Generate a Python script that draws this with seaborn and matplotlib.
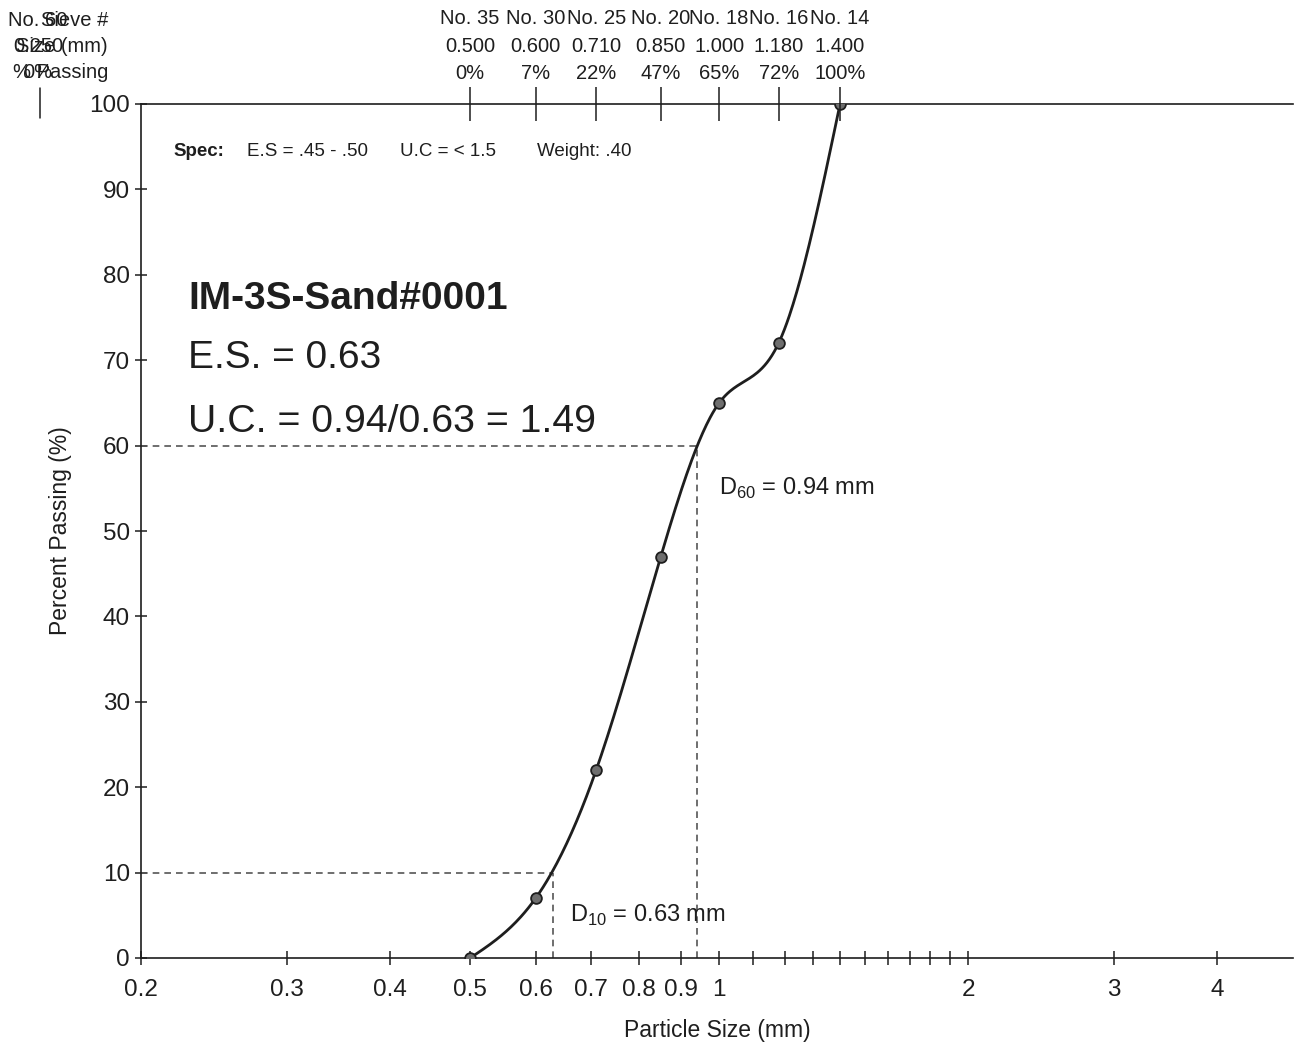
import numpy as np
import matplotlib
matplotlib.use("Agg")
import matplotlib.pyplot as plt
import seaborn as sns

# Sieve data
sieve_no = ["No. 35", "No. 30", "No. 25", "No. 20", "No. 18", "No. 16", "No. 14"]
sieve_mm = [0.500, 0.600, 0.710, 0.850, 1.000, 1.180, 1.400]
passing = [0, 7, 22, 47, 65, 72, 100]
d10, d60 = 0.63, 0.94

x_major = [0.2, 0.3, 0.4, 0.5, 0.6, 0.7, 0.8, 0.9, 1, 2, 3, 4]
x_major_labels = ["0.2", "0.3", "0.4", "0.5", "0.6", "0.7", "0.8", "0.9", "1", "2", "3", "4"]
x_minor = [1.1, 1.2, 1.3, 1.4, 1.5, 1.6, 1.7, 1.8, 1.9]
y_ticks = list(range(0, 101, 10))

sns.set_style("white")
plt.rcParams["font.family"] = ["Liberation Sans", "DejaVu Sans"]
plt.rcParams["mathtext.fontset"] = "custom"
plt.rcParams["mathtext.rm"] = "Liberation Sans"
INK = "#1e1e1e"


def natural_spline(xk, yk, xs):
    """Natural cubic spline, used only to draw the smooth gradation curve."""
    xk = np.asarray(xk, float)
    yk = np.asarray(yk, float)
    n = len(xk)
    h = np.diff(xk)
    A = np.zeros((n, n))
    r = np.zeros(n)
    A[0, 0] = A[-1, -1] = 1
    for i in range(1, n - 1):
        A[i, i - 1] = h[i - 1]
        A[i, i] = 2 * (h[i - 1] + h[i])
        A[i, i + 1] = h[i]
        r[i] = 3 * ((yk[i + 1] - yk[i]) / h[i] - (yk[i] - yk[i - 1]) / h[i - 1])
    c = np.linalg.solve(A, r)
    b = (yk[1:] - yk[:-1]) / h - h * (2 * c[:-1] + c[1:]) / 3
    d = (c[1:] - c[:-1]) / (3 * h)
    idx = np.clip(np.searchsorted(xk, xs) - 1, 0, n - 2)
    dx = xs - xk[idx]
    return yk[idx] + b[idx] * dx + c[idx] * dx ** 2 + d[idx] * dx ** 3


W, H = 1295, 1044
fig = plt.figure(figsize=(W / 100, H / 100), dpi=100)
ax = fig.add_axes([141 / W, 86 / H, 1152 / W, 854 / H])

# Gradation curve (smooth in log-x) and measured points
lx = np.log10(sieve_mm)
xs = np.linspace(lx[0], lx[-1], 300)
sns.lineplot(x=10 ** xs, y=natural_spline(lx, passing, xs), ax=ax, color=INK, lw=2.0,
             sort=False, zorder=3)
sns.scatterplot(x=sieve_mm, y=passing, ax=ax, s=60, color="#6e6e6e", edgecolor=INK,
                linewidth=1.3, zorder=4)

# D10 / D60 construction lines
dash = dict(color="#555555", lw=1.2, ls=(0, (4, 3)), zorder=2)
ax.plot([0.2, d60], [60, 60], **dash)
ax.plot([d60, d60], [0, 60], **dash)
ax.plot([0.2, d10], [10, 10], **dash)
ax.plot([d10, d10], [0, 10], **dash)

ax.set_xscale("log")
ax.set_xlim(0.2, 4.94)
ax.set_ylim(0, 100)
ax.set_xticks(x_major)
ax.set_xticklabels(x_major_labels)
ax.set_xticks(x_minor, minor=True)
ax.set_xticklabels([], minor=True)
ax.set_yticks(y_ticks)
ax.tick_params(axis="x", which="both", direction="inout", length=10, width=1.1,
               colors=INK, labelsize=17.5, pad=10, bottom=True)
ax.tick_params(axis="y", direction="inout", length=8, width=1.1, colors=INK,
               labelsize=17.5, pad=4, left=True)
ax.set_xlabel("Particle Size (mm)", fontsize=16.5, color=INK, labelpad=13)
ax.set_ylabel("Percent Passing (%)", fontsize=16.5, color=INK, labelpad=12)

for side in ["left", "bottom", "top"]:
    ax.spines[side].set_color(INK)
    ax.spines[side].set_linewidth(1.2)
ax.spines["right"].set_visible(False)

# Top axis: sieve numbers, sizes and % passing
top = ax.twiny()
top.set_xscale("log")
top.set_xlim(ax.get_xlim())
top.set_xticks(sieve_mm)
top.set_xticks([], minor=True)
top.set_xticklabels([f"{n}\n{s:.3f}\n{p}%" for n, s, p in zip(sieve_no, sieve_mm, passing)],
                    fontsize=14.5, color=INK)
for lab in top.get_xticklabels():
    lab.set_linespacing(1.56)
top.tick_params(axis="x", direction="inout", length=24, width=1.1, colors=INK, pad=3)
for side in ["left", "right", "bottom", "top"]:
    top.spines[side].set_visible(False)

# Left header (overlapping column header as on the original sheet)
hdr = dict(va="center", fontsize=14.5, color=INK)
fig.text(108 / W, 1 - 20 / H, "Sieve #", ha="right", **hdr)
fig.text(108 / W, 1 - 46 / H, "Size (mm)", ha="right", **hdr)
fig.text(108 / W, 1 - 73 / H, "% Passing", ha="right", **hdr)
fig.text(38 / W, 1 - 20 / H, "No. 60", ha="center", **hdr)
fig.text(38 / W, 1 - 46 / H, "0.250", ha="center", **hdr)
fig.text(38 / W, 1 - 73 / H, "0%", ha="center", **hdr)
fig.add_artist(plt.Line2D([40 / W, 40 / W], [1 - 88 / H, 1 - 118 / H], color=INK, lw=1.1))

# Annotations
t = ax.transAxes
spec = dict(transform=t, fontsize=13.5, color=INK, va="center")
ax.text(0.028, 0.944, "Spec:", fontweight="bold", **spec)
ax.text(0.092, 0.944, "E.S = .45 - .50", **spec)
ax.text(0.225, 0.944, "U.C = < 1.5", **spec)
ax.text(0.344, 0.944, "Weight: .40", **spec)

ax.text(0.041, 0.772, "IM-3S-Sand#0001", transform=t, fontsize=28, fontweight="bold",
        color=INK, va="center")
ax.text(0.041, 0.7026, "E.S. = 0.63", transform=t, fontsize=28, color=INK, va="center")
ax.text(0.041, 0.6276, "U.C. = 0.94/0.63 = 1.49", transform=t, fontsize=28.3, color=INK,
        va="center")

ax.text(1.0, 55, r"D$_{60}$ = 0.94 mm", fontsize=17, color=INK, va="center")
ax.text(0.66, 5.0, r"D$_{10}$ = 0.63 mm", fontsize=17, color=INK, va="center")

plt.savefig("out.png", dpi=100)
plt.close()
